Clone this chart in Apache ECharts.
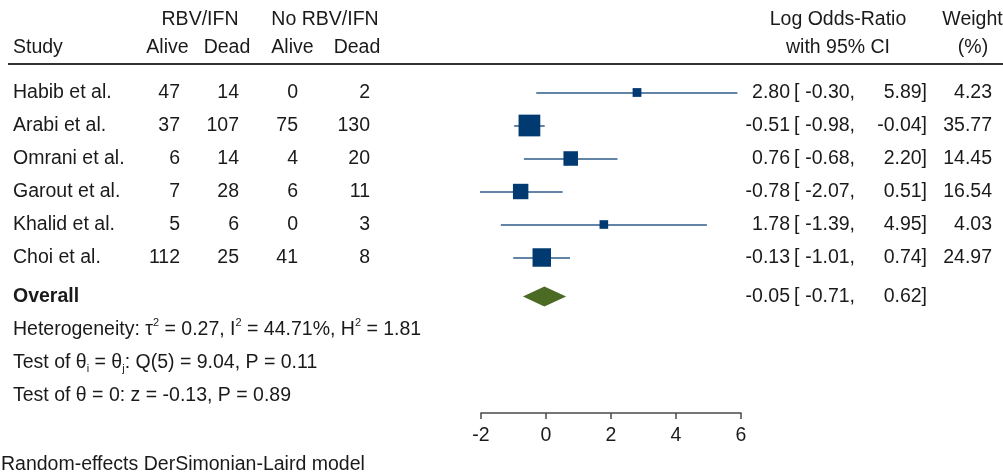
<!DOCTYPE html>
<html><head><meta charset="utf-8">
<script src="https://cdn.jsdelivr.net/npm/echarts@6/dist/echarts.min.js"></script>
<style>html,body{margin:0;padding:0;background:#fff}#c{width:1003px;height:474px}</style>
</head><body><div id="c"></div>
<script>
// ---- data ----
const studies = ['Habib et al.', 'Arabi et al.', 'Omrani et al.', 'Garout et al.', 'Khalid et al.', 'Choi et al.'];
const rbvAlive = [47, 37, 6, 7, 5, 112];
const rbvDead = [14, 107, 14, 28, 6, 25];
const noRbvAlive = [0, 75, 4, 6, 0, 41];
const noRbvDead = [2, 130, 20, 11, 3, 8];
const logOR = [2.80, -0.51, 0.76, -0.78, 1.78, -0.13];
const ciLow = [-0.30, -0.98, -0.68, -2.07, -1.39, -1.01];
const ciHigh = [5.89, -0.04, 2.20, 0.51, 4.95, 0.74];
const weights = [4.23, 35.77, 14.45, 16.54, 4.03, 24.97];
const overallEst = [-0.05];
const overallLow = [-0.71];
const overallHigh = [0.62];
const xTicks = [-2, 0, 2, 4, 6];
const footLines = [
  'Heterogeneity: τ{sup|2} = 0.27, I{sup|2} = 44.71%, H{sup|2} = 1.81',
  'Test of θ{sub|i} = θ{sub|j}: Q(5) = 9.04, P = 0.11',
  'Test of θ = 0: z = -0.13, P = 0.89'
];
const modelNote = 'Random-effects DerSimonian-Laird model';

// ---- layout ----
const FONT = '"Liberation Sans", Arial, Helvetica, sans-serif';
const FS = 19.5;
const ROW0 = 92.5, ROWH = 33;
const OVERALL_ROW = 6.18;
const rowY = i => ROW0 + i * ROWH;
const TXT = '#1a1a1a';

function txt(x, y, s, align, weight, rich) {
  const st = {
    text: s, font: (weight || 'normal') + ' ' + FS + 'px ' + FONT, fill: TXT,
    align: align, verticalAlign: 'middle', textAlign: align, textVerticalAlign: 'middle'
  };
  if (rich) { st.rich = rich; st.lineHeight = 24; }
  return { type: 'text', x: x, y: y, silent: true, style: st };
}

const g = [];
// headers
g.push(txt(200, 19.5, 'RBV/IFN', 'center'));
g.push(txt(325, 19.5, 'No RBV/IFN', 'center'));
g.push(txt(13, 47.5, 'Study', 'left'));
g.push(txt(167.5, 47.5, 'Alive', 'center'));
g.push(txt(227, 47.5, 'Dead', 'center'));
g.push(txt(292.5, 47.5, 'Alive', 'center'));
g.push(txt(357, 47.5, 'Dead', 'center'));
g.push(txt(838, 19.5, 'Log Odds-Ratio', 'center'));
g.push(txt(838, 47.5, 'with 95% CI', 'center'));
g.push(txt(972.5, 19.5, 'Weight', 'center'));
g.push(txt(973, 47.5, '(%)', 'center'));
g.push({ type: 'line', silent: true, shape: { x1: 8, y1: 64, x2: 1003, y2: 64 }, style: { stroke: '#333', lineWidth: 2 } });

const f2 = v => v.toFixed(2);
function ciRow(y, est, lo, hi) {
  g.push(txt(790, y, f2(est), 'right'));
  g.push(txt(794, y, '[', 'left'));
  g.push(txt(855, y, f2(lo) + ',', 'right'));
  g.push(txt(927, y, f2(hi) + ']', 'right'));
}
studies.forEach((s, i) => {
  const y = rowY(i);
  g.push(txt(13, y, s, 'left'));
  g.push(txt(180, y, String(rbvAlive[i]), 'right'));
  g.push(txt(239, y, String(rbvDead[i]), 'right'));
  g.push(txt(298, y, String(noRbvAlive[i]), 'right'));
  g.push(txt(370, y, String(noRbvDead[i]), 'right'));
  ciRow(y, logOR[i], ciLow[i], ciHigh[i]);
  g.push(txt(992, y, f2(weights[i]), 'right'));
});
const yO = rowY(OVERALL_ROW);
g.push(txt(13, yO, 'Overall', 'left', 'bold'));
ciRow(yO, overallEst[0], overallLow[0], overallHigh[0]);

const rich = {
  sup: { fontSize: 11, fontFamily: FONT, lineHeight: 10, verticalAlign: 'top', fill: TXT, color: TXT },
  sub: { fontSize: 11, fontFamily: FONT, lineHeight: 18, verticalAlign: 'bottom', fill: TXT, color: TXT }
};
footLines.forEach((s, k) => {
  g.push(txt(13, yO + 33 * (k + 1), s, 'left', 'normal', rich));
});
g.push(txt(1, 465, modelNote, 'left'));

const chart = echarts.init(document.getElementById('c'), null, { renderer: 'canvas' });
chart.setOption({
  animation: false,
  backgroundColor: '#fff',
  grid: { left: 481, right: 262, top: 59.5, bottom: 61, containLabel: false },
  xAxis: {
    type: 'value', min: -2, max: 6, interval: 2, position: 'bottom',
    axisLine: { show: true, onZero: false, lineStyle: { color: '#4a4a4a', width: 1.5 } },
    axisTick: { show: true, length: 6, lineStyle: { color: '#4a4a4a', width: 1.5 } },
    axisLabel: { show: true, margin: 13, fontSize: FS, fontFamily: FONT, color: TXT,
      customValues: xTicks },
    splitLine: { show: false }
  },
  yAxis: { type: 'value', min: -1, max: 9.712, inverse: true, show: false, splitLine: { show: false } },
  series: [
    {
      type: 'lines', coordinateSystem: 'cartesian2d', silent: true, z: 2,
      lineStyle: { color: '#2e5b88', width: 1.6, opacity: 1 },
      data: studies.map((s, i) => ({ coords: [[ciLow[i], i], [ciHigh[i], i]] }))
    },
    {
      type: 'scatter', symbol: 'rect', silent: true, z: 3,
      itemStyle: { color: '#003a70', opacity: 1 },
      symbolSize: d => 3.3 * Math.sqrt(d[2]) + 2,
      data: logOR.map((v, i) => [v, i, weights[i]])
    },
    {
      type: 'custom', silent: true, z: 3,
      renderItem: (params, api) => {
        const r = api.value(3);
        const l = api.coord([api.value(1), r]);
        const c = api.coord([api.value(0), r]);
        const h = api.coord([api.value(2), r]);
        return {
          type: 'polygon',
          shape: { points: [[l[0], l[1]], [c[0], c[1] - 10], [h[0], h[1]], [c[0], c[1] + 10]] },
          style: { fill: '#4b6b24' }
        };
      },
      data: [[overallEst[0], overallLow[0], overallHigh[0], OVERALL_ROW]]
    }
  ],
  graphic: { elements: g }
});
</script></body></html>
